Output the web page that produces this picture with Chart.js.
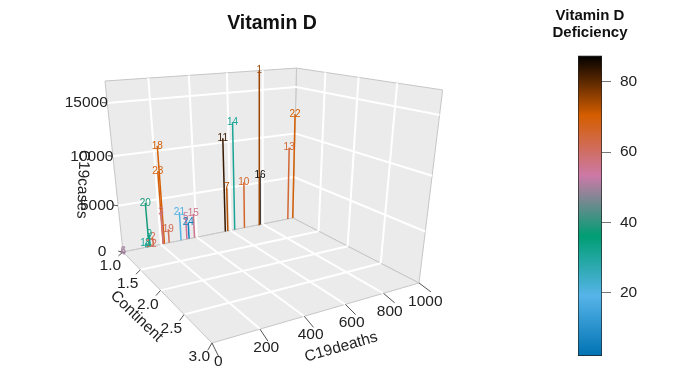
<!DOCTYPE html>
<html>
<head>
<meta charset="utf-8">
<title>Vitamin D</title>
<script src="https://cdn.jsdelivr.net/npm/chart.js@4"></script>
<style>
  html, body { margin: 0; padding: 0; background: #fff; }
  body { width: 699px; height: 376px; position: relative; overflow: hidden; }
  canvas { position: absolute; top: 0; filter: blur(0.35px); }
  #plot { left: 0; }
  #colorbar { left: 480px; }
</style>
</head>
<body>
<canvas id="plot" width="544" height="376"></canvas>
<canvas id="colorbar" width="219" height="376"></canvas>
<script>
// ==========================
// DATA
// ==========================
const pointLabels = ["1","2","3","4","5","6","7","8","9","10","11","12","13","14","15","16","17","18","19","20","21","22","23","24"];
const deaths = [780,159,213,0,344,2,583,132,142,685,568,148,965,625,387,783,120,219,245,136,311,998,212,356];
const continent = [1,1,1,1,1,1,1,1,1,1,1,1,1,1,1,1,1,1,1,1,1,1,1,1];
const cases = [16950,930,3590,0,2540,30,5050,390,1380,5340,10440,210,8475,11980,2760,5790,470,10460,1540,4830,3230,12120,7915,1870];
const vitaminD = [75,63,57,50,55,50,73,33,33,66,83,62,65,31,56,87,31,70,62,38,20,70,69,6];

const deathTicks = [0,200,400,600,800,1000];
const continentTicks = [1,1.5,2,2.5,3];
const caseTicks = [0,5000,10000,15000];
const colorTicks = [20,40,60,80];
const colorTitle = ["Vitamin D","Deficiency"];

const deathRange = [0,1000];
const continentRange = [1,3];
const caseRange = [0,16950];
const colorRange = [2,87.5];
const rampColors = ["#0072B2","#56B4E9","#009E73","#CC79A7","#D55E00","#000000"];

const FONT = '"Liberation Sans", Arial, sans-serif';
const TEXT_COLOR = "#222222";

// ==========================
// PROJECTION (perspective box -> view coordinates)
// ==========================
const view = [
  [214.1, 31.7, -30.1, 123],
  [-1.2, -1.7, -180.3, 252],
  [0.1505, -0.2703, -0.115, 1]
];

function project(d, c, k) {
  const u = (d - deathRange[0]) / (deathRange[1] - deathRange[0]);
  const v = (c - continentRange[0]) / (continentRange[1] - continentRange[0]);
  const w = (k - caseRange[0]) / (caseRange[1] - caseRange[0]);
  const q = view[2][0] * u + view[2][1] * v + view[2][2] * w + view[2][3];
  return {
    x: (view[0][0] * u + view[0][1] * v + view[0][2] * w + view[0][3]) / q,
    y: (view[1][0] * u + view[1][1] * v + view[1][2] * w + view[1][3]) / q
  };
}

function rampColor(value) {
  const t = (value - colorRange[0]) / (colorRange[1] - colorRange[0]) * (rampColors.length - 1);
  const i = Math.min(Math.floor(t), rampColors.length - 2);
  const f = t - i;
  const a = parseInt(rampColors[i].slice(1), 16);
  const b = parseInt(rampColors[i + 1].slice(1), 16);
  const mix = shift => Math.round(((a >> shift) & 255) * (1 - f) + ((b >> shift) & 255) * f);
  return `rgb(${mix(16)},${mix(8)},${mix(0)})`;
}

// ==========================
// DATASETS
// ==========================
const datasets = [];

function addLine(points, color, width, order) {
  datasets.push({
    data: points,
    showLine: true,
    borderColor: color,
    borderWidth: width,
    pointRadius: 0,
    order: order
  });
}

function addPanel(points) {
  datasets.push({
    data: points,
    showLine: true,
    fill: "shape",
    backgroundColor: "#ebebeb",
    borderColor: "#c6c6c6",
    borderWidth: 1,
    pointRadius: 0,
    order: 5
  });
}

const [d0, d1] = deathRange;
const [c0, c1] = continentRange;
const [k0, k1] = caseRange;

// panels: floor, back wall, side wall
addPanel([project(d0,c0,k0), project(d1,c0,k0), project(d1,c1,k0), project(d0,c1,k0), project(d0,c0,k0)]);
addPanel([project(d0,c0,k0), project(d1,c0,k0), project(d1,c0,k1), project(d0,c0,k1), project(d0,c0,k0)]);
addPanel([project(d1,c0,k0), project(d1,c1,k0), project(d1,c1,k1), project(d1,c0,k1), project(d1,c0,k0)]);

// white grid lines
const WHITE = "#ffffff";
deathTicks.slice(1, -1).forEach(d => {
  addLine([project(d,c0,k0), project(d,c1,k0)], WHITE, 2, 4);
  addLine([project(d,c0,k0), project(d,c0,k1)], WHITE, 2, 4);
});
continentTicks.slice(1, -1).forEach(c => {
  addLine([project(d0,c,k0), project(d1,c,k0)], WHITE, 2, 4);
  addLine([project(d1,c,k0), project(d1,c,k1)], WHITE, 2, 4);
});
caseTicks.slice(1).forEach(k => {
  addLine([project(d0,c0,k), project(d1,c0,k)], WHITE, 2, 4);
  addLine([project(d1,c0,k), project(d1,c1,k)], WHITE, 2, 4);
});

// axis tick marks
const TICK = "#555555";
deathTicks.forEach(d => addLine([project(d,c1,k0), project(d - 19,c1 + 0.18,k0)], TICK, 1, 3));
continentTicks.forEach(c => addLine([project(d0,c,k0), project(d0 - 35,c + 0.074,k0)], TICK, 1, 3));
caseTicks.forEach(k => addLine([project(d0,c0,k), project(d0 - 17,c0 - 0.046,k)], TICK, 1, 3));

// drop lines
pointLabels.forEach((label, i) => {
  addLine([
    project(deaths[i], continent[i], k0),
    project(deaths[i], continent[i], cases[i])
  ], rampColor(vitaminD[i]), 1.5, 2);
});

// ==========================
// TEXT PLUGINS
// ==========================
const boxText = {
  id: "boxText",
  afterDatasetsDraw(chart) {
    const { ctx, scales } = chart;
    const px = p => ({ x: scales.x.getPixelForValue(p.x), y: scales.y.getPixelForValue(p.y) });
    const put = (text, p, dx, dy, angle) => {
      ctx.save();
      ctx.translate(p.x + dx, p.y + dy);
      ctx.rotate((angle || 0) * Math.PI / 180);
      ctx.fillText(text, 0, 0);
      ctx.restore();
    };

    ctx.save();
    ctx.textAlign = "center";
    ctx.textBaseline = "middle";

    // tick labels + axis titles
    ctx.fillStyle = TEXT_COLOR;
    ctx.font = "15.5px " + FONT;
    deathTicks.forEach(d => put(String(d), px(project(d,c1,k0)), 6.3, 18.5));
    continentTicks.forEach(c => put(c.toFixed(1), px(project(d0,c,k0)), -12.7, 14));
    caseTicks.forEach(k => put(String(k), px(project(d0,c0,k)), -21, 0));
    put("C19deaths", px(project(500,c1,k0)), 16, 37, -16);
    put("Continent", px(project(d0,2,k0)), -24, 26, 44);
    put("C19cases", px(project(d0,c0,6500)), -34, -7, 92);

    // point labels
    ctx.font = "10px " + FONT;
    pointLabels.forEach((label, i) => {
      ctx.fillStyle = rampColor(vitaminD[i]);
      put(label, px(project(deaths[i], continent[i], cases[i])), 0, 0);
    });
    ctx.restore();
  }
};

// title sits over the bar, the built-in one can only centre on the whole canvas or squeeze
const barTitle = {
  id: "barTitle",
  afterDraw(chart) {
    const { ctx, chartArea } = chart;
    const x = (chartArea.left + chartArea.right) / 2;
    ctx.save();
    ctx.textAlign = "center";
    ctx.textBaseline = "middle";
    ctx.fillStyle = "#111111";
    ctx.font = "bold 15px " + FONT;
    colorTitle.forEach((line, i) => ctx.fillText(line, x, 16 + i * 16.5));
    ctx.restore();
  }
};

// ==========================
// MAIN CHART
// ==========================
new Chart(document.getElementById("plot"), {
  type: "scatter",
  data: { datasets: datasets },
  plugins: [boxText],
  options: {
    responsive: false,
    animation: false,
    layout: { padding: 0 },
    plugins: {
      legend: { display: false },
      tooltip: { enabled: false },
      title: {
        display: true,
        text: "Vitamin D",
        color: "#111111",
        font: { family: FONT, size: 19.5, weight: "bold", lineHeight: 1.2 },
        padding: { top: 12.3, bottom: 4.3 }
      }
    },
    scales: {
      x: { type: "linear", display: false, min: 0, max: 544 },
      y: { type: "linear", display: false, min: 40, max: 376, reverse: true }
    },
    elements: { line: { tension: 0 } }
  }
});

// ==========================
// COLOUR BAR
// ==========================
const colorBar = new Chart(document.getElementById("colorbar"), {
  type: "bar",
  data: {
    labels: ["Vitamin D"],
    datasets: [{
      data: [colorRange],
      barPercentage: 1,
      categoryPercentage: 1,
      borderColor: "#222222",
      borderWidth: 1,
      borderSkipped: false,
      backgroundColor(ctx) {
        const y = ctx.chart.scales.y;
        const from = y ? y.getPixelForValue(colorRange[0]) : NaN;
        const to = y ? y.getPixelForValue(colorRange[1]) : NaN;
        // first pass runs before the scale has its size
        if (!isFinite(from) || !isFinite(to)) return rampColors[0];
        const g = ctx.chart.ctx.createLinearGradient(0, from, 0, to);
        rampColors.forEach((c, i) => g.addColorStop(i / (rampColors.length - 1), c));
        return g;
      }
    }]
  },
  plugins: [barTitle],
  options: {
    responsive: false,
    animation: false,
    layout: { padding: { left: 98, right: 0, top: 55.5, bottom: 20 } },
    plugins: {
      legend: { display: false },
      tooltip: { enabled: false }
    },
    scales: {
      x: { display: false },
      y: {
        position: "right",
        min: colorRange[0],
        max: colorRange[1],
        afterBuildTicks(scale) { scale.ticks = colorTicks.map(v => ({ value: v })); },
        afterFit(scale) { scale.width = 97; },
        border: { display: false },
        grid: { drawOnChartArea: false, drawTicks: true, tickLength: 9, color: "#777777" },
        ticks: { color: TEXT_COLOR, padding: 9, font: { family: FONT, size: 15.5 } }
      }
    }
  }
});
colorBar.update();
</script>
</body>
</html>
